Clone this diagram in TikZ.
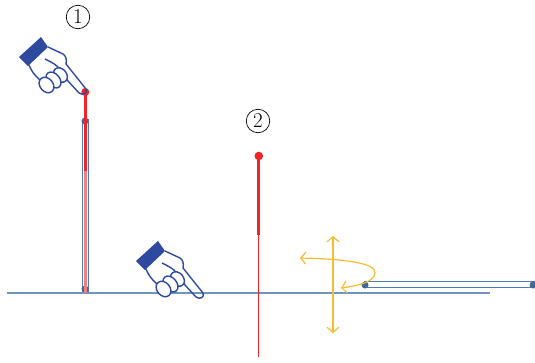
\documentclass[tikz,border=0pt]{standalone}
\usepackage{xcolor}
\usepackage{tikz}
\usetikzlibrary{arrows.meta}
\definecolor{handblue}{HTML}{2E4A9E}
\definecolor{tubeblue}{HTML}{4A7DB5}
\definecolor{groundblue}{HTML}{6F94BD}
\definecolor{pinred}{HTML}{EE2429}
\definecolor{turnyellow}{HTML}{F6BB2F}
\tikzset{
    tube/.style = {draw = tubeblue, fill = white, line width = 1.1pt},
    pindot/.style = {fill = pinred},
    tubedot/.style = {fill = tubeblue!85!black},
    numbered/.style = {draw, circle, line width = 0.7pt, inner sep = 0pt,
        minimum size = 23.5pt, font = \fontsize{21}{21}\selectfont},
    turn/.style = {draw = turnyellow, line width = 1.2pt,
        {Straight Barb[length = 5pt, width = 12pt]}-{Straight Barb[length = 5pt, width = 12pt]}},
    finger/.style = {draw = handblue, fill = white, line width = 1.4pt},
    pointer/.pic = {
        \fill[handblue] (19, 57) -- (41, 37) -- (48, 47) -- (28, 66) -- cycle;
        \draw[handblue, line width = 1.4pt, line join = round]
            (29, 65) .. controls (31, 70) and (34, 75) .. (40, 80)
            (48, 47) -- (63, 54) .. controls (66, 56) and (67, 60) .. (66, 64)
            -- (86, 89) .. controls (88, 93) and (83, 96) .. (79, 93)
            -- (68, 81) .. controls (66, 78) and (65, 76) .. (65, 74)
            (45, 59) .. controls (51, 62) and (55, 64) .. (58, 67) -- (58, 74);
        \draw[finger, rotate around = {-50:(60.5, 75)}] (60.5, 75) ellipse (8 and 6);
        \draw[finger, rotate around = {-50:(53.5, 80)}] (53.5, 80) ellipse (9 and 6.2);
        \draw[finger, rotate around = {-50:(46.5, 85)}] (46.5, 85) ellipse (8.5 and 6.5);
    }
}

\begin{document}
\begin{tikzpicture}[x = 1pt, y = -1pt]
    \useasboundingbox (0, 0) rectangle (535, 362);

    \draw[groundblue, line width = 1.3pt] (7, 293) -- (490, 293);

    % standing on the line
    \draw[tube] (82.7, 120) rectangle (88.3, 291);
    \fill[tubedot] (85, 121) circle(3.5pt);
    \fill[tubedot] (85, 289) circle(3.5pt);
    \draw[pinred!60, line width = 2.4pt] (85.3, 171) -- (85.3, 293);
    \draw[pinred, line width = 2.7pt] (85.3, 92) -- (85.3, 171);
    \fill[pindot] (85.3, 92) circle(4pt);

    % lying on the line
    \draw[tube] (365, 281.7) rectangle (535, 287.5);
    \fill[tubedot] (365, 285) circle(3.5pt);
    \fill[tubedot] (533, 285) circle(3.5pt);

    \draw[pinred, line width = 2.8pt] (258.8, 156) -- (258.8, 235);
    \draw[pinred, line width = 1pt] (258.8, 235) -- (258.8, 357);
    \fill[pindot] (258.8, 156) circle(4.3pt);

    \pic at (0, 0) {pointer};
    \pic at (117, 204) {pointer};

    \node[numbered] (one) at (78, 17) {1};
    \node[numbered] (two) at (258, 121) {2};

    \draw[turn] (333, 236) -- (333, 333);
    \draw[turn] (300, 258) .. controls (345, 259) and (376, 263) .. (375, 273)
        .. controls (374, 283) and (355, 286) .. (341, 288);
\end{tikzpicture}
\end{document}
